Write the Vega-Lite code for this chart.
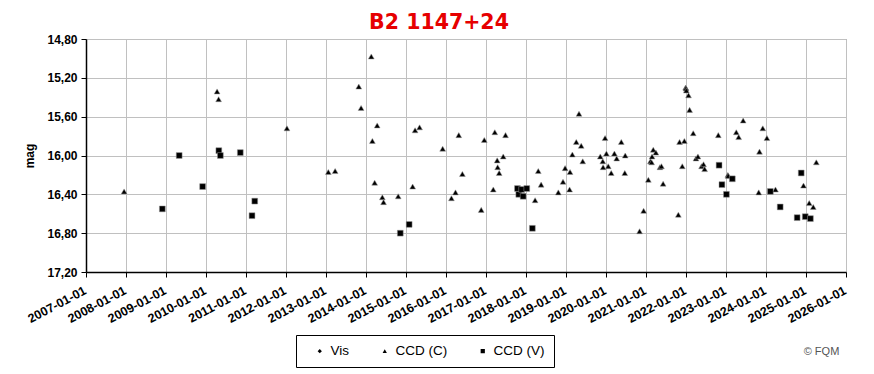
{
  "$schema": "https://vega.github.io/schema/vega-lite/v6.json",
  "width": 760,
  "height": 233,
  "autosize": {"type": "none"},
  "padding": {"left": 86, "top": 39, "right": 28, "bottom": 102},
  "background": "white",
  "config": {
    "view": {"stroke": "#888888"},
    "font": "Liberation Sans"
  },
  "title": {
    "text": "B2 1147+24",
    "font": "DejaVu Sans",
    "fontSize": 20.5,
    "fontWeight": "bold",
    "color": "#e60000",
    "anchor": "middle",
    "frame": "group",
    "dx": -27,
    "dy": 25,
    "baseline": "bottom",
    "offset": 5
  },
  "data": {
    "values": [
      {"type": "CCD (C)", "date": "2007-12-15", "mag": 16.37},
      {"type": "CCD (C)", "date": "2010-04-12", "mag": 15.34},
      {"type": "CCD (C)", "date": "2010-04-26", "mag": 15.42},
      {"type": "CCD (C)", "date": "2012-01-10", "mag": 15.72},
      {"type": "CCD (C)", "date": "2013-01-22", "mag": 16.17},
      {"type": "CCD (C)", "date": "2013-03-25", "mag": 16.16},
      {"type": "CCD (C)", "date": "2013-10-27", "mag": 15.29},
      {"type": "CCD (C)", "date": "2013-11-17", "mag": 15.51},
      {"type": "CCD (C)", "date": "2014-02-18", "mag": 14.98},
      {"type": "CCD (C)", "date": "2014-02-28", "mag": 15.85},
      {"type": "CCD (C)", "date": "2014-03-21", "mag": 16.28},
      {"type": "CCD (C)", "date": "2014-04-13", "mag": 15.69},
      {"type": "CCD (C)", "date": "2014-05-30", "mag": 16.43},
      {"type": "CCD (C)", "date": "2014-06-10", "mag": 16.48},
      {"type": "CCD (C)", "date": "2014-10-22", "mag": 16.42},
      {"type": "CCD (C)", "date": "2015-03-03", "mag": 16.32},
      {"type": "CCD (C)", "date": "2015-03-25", "mag": 15.74},
      {"type": "CCD (C)", "date": "2015-05-05", "mag": 15.71},
      {"type": "CCD (C)", "date": "2015-12-02", "mag": 15.93},
      {"type": "CCD (C)", "date": "2016-02-20", "mag": 16.44},
      {"type": "CCD (C)", "date": "2016-03-28", "mag": 16.38},
      {"type": "CCD (C)", "date": "2016-04-27", "mag": 15.79},
      {"type": "CCD (C)", "date": "2016-05-30", "mag": 16.19},
      {"type": "CCD (C)", "date": "2016-11-18", "mag": 16.56},
      {"type": "CCD (C)", "date": "2016-12-16", "mag": 15.84},
      {"type": "CCD (C)", "date": "2017-03-08", "mag": 16.35},
      {"type": "CCD (C)", "date": "2017-03-22", "mag": 15.76},
      {"type": "CCD (C)", "date": "2017-04-13", "mag": 16.05},
      {"type": "CCD (C)", "date": "2017-04-17", "mag": 16.12},
      {"type": "CCD (C)", "date": "2017-05-01", "mag": 16.18},
      {"type": "CCD (C)", "date": "2017-06-07", "mag": 16.01},
      {"type": "CCD (C)", "date": "2017-06-28", "mag": 15.79},
      {"type": "CCD (C)", "date": "2018-03-25", "mag": 16.46},
      {"type": "CCD (C)", "date": "2018-04-23", "mag": 16.16},
      {"type": "CCD (C)", "date": "2018-05-19", "mag": 16.30},
      {"type": "CCD (C)", "date": "2018-10-23", "mag": 16.38},
      {"type": "CCD (C)", "date": "2018-12-05", "mag": 16.27},
      {"type": "CCD (C)", "date": "2018-12-24", "mag": 16.13},
      {"type": "CCD (C)", "date": "2019-02-03", "mag": 16.35},
      {"type": "CCD (C)", "date": "2019-02-07", "mag": 16.17},
      {"type": "CCD (C)", "date": "2019-02-28", "mag": 15.99},
      {"type": "CCD (C)", "date": "2019-04-05", "mag": 15.86},
      {"type": "CCD (C)", "date": "2019-04-30", "mag": 15.57},
      {"type": "CCD (C)", "date": "2019-05-20", "mag": 15.90},
      {"type": "CCD (C)", "date": "2019-06-03", "mag": 16.06},
      {"type": "CCD (C)", "date": "2019-11-10", "mag": 16.01},
      {"type": "CCD (C)", "date": "2019-12-03", "mag": 16.06},
      {"type": "CCD (C)", "date": "2019-12-06", "mag": 16.12},
      {"type": "CCD (C)", "date": "2019-12-24", "mag": 15.82},
      {"type": "CCD (C)", "date": "2020-01-05", "mag": 15.98},
      {"type": "CCD (C)", "date": "2020-01-22", "mag": 16.11},
      {"type": "CCD (C)", "date": "2020-02-18", "mag": 16.18},
      {"type": "CCD (C)", "date": "2020-03-18", "mag": 15.98},
      {"type": "CCD (C)", "date": "2020-04-08", "mag": 16.03},
      {"type": "CCD (C)", "date": "2020-05-20", "mag": 15.86},
      {"type": "CCD (C)", "date": "2020-06-21", "mag": 16.18},
      {"type": "CCD (C)", "date": "2020-06-25", "mag": 16.00},
      {"type": "CCD (C)", "date": "2020-11-03", "mag": 16.78},
      {"type": "CCD (C)", "date": "2020-12-10", "mag": 16.57},
      {"type": "CCD (C)", "date": "2021-01-22", "mag": 16.25},
      {"type": "CCD (C)", "date": "2021-02-10", "mag": 16.06},
      {"type": "CCD (C)", "date": "2021-02-21", "mag": 16.07},
      {"type": "CCD (C)", "date": "2021-02-25", "mag": 16.01},
      {"type": "CCD (C)", "date": "2021-03-08", "mag": 15.94},
      {"type": "CCD (C)", "date": "2021-04-01", "mag": 15.97},
      {"type": "CCD (C)", "date": "2021-05-08", "mag": 16.12},
      {"type": "CCD (C)", "date": "2021-05-22", "mag": 16.11},
      {"type": "CCD (C)", "date": "2021-06-06", "mag": 16.29},
      {"type": "CCD (C)", "date": "2021-10-23", "mag": 16.61},
      {"type": "CCD (C)", "date": "2021-11-03", "mag": 15.86},
      {"type": "CCD (C)", "date": "2021-11-28", "mag": 16.11},
      {"type": "CCD (C)", "date": "2021-12-17", "mag": 15.85},
      {"type": "CCD (C)", "date": "2021-12-29", "mag": 15.30},
      {"type": "CCD (C)", "date": "2022-01-01", "mag": 15.31},
      {"type": "CCD (C)", "date": "2022-01-04", "mag": 15.33},
      {"type": "CCD (C)", "date": "2022-01-24", "mag": 15.38},
      {"type": "CCD (C)", "date": "2022-02-03", "mag": 15.53},
      {"type": "CCD (C)", "date": "2022-03-08", "mag": 15.77},
      {"type": "CCD (C)", "date": "2022-04-02", "mag": 16.03},
      {"type": "CCD (C)", "date": "2022-04-20", "mag": 16.01},
      {"type": "CCD (C)", "date": "2022-05-23", "mag": 16.11},
      {"type": "CCD (C)", "date": "2022-06-10", "mag": 16.09},
      {"type": "CCD (C)", "date": "2022-06-20", "mag": 16.14},
      {"type": "CCD (C)", "date": "2022-10-23", "mag": 15.79},
      {"type": "CCD (C)", "date": "2023-01-18", "mag": 16.20},
      {"type": "CCD (C)", "date": "2023-01-22", "mag": 16.21},
      {"type": "CCD (C)", "date": "2023-04-05", "mag": 15.76},
      {"type": "CCD (C)", "date": "2023-04-27", "mag": 15.81},
      {"type": "CCD (C)", "date": "2023-06-07", "mag": 15.64},
      {"type": "CCD (C)", "date": "2023-10-27", "mag": 16.38},
      {"type": "CCD (C)", "date": "2023-11-03", "mag": 15.96},
      {"type": "CCD (C)", "date": "2023-12-03", "mag": 15.72},
      {"type": "CCD (C)", "date": "2024-01-10", "mag": 15.82},
      {"type": "CCD (C)", "date": "2024-03-28", "mag": 16.35},
      {"type": "CCD (C)", "date": "2024-12-09", "mag": 16.31},
      {"type": "CCD (C)", "date": "2025-01-30", "mag": 16.49},
      {"type": "CCD (C)", "date": "2025-03-08", "mag": 16.53},
      {"type": "CCD (C)", "date": "2025-04-05", "mag": 16.07},
      {"type": "CCD (V)", "date": "2008-11-28", "mag": 16.55},
      {"type": "CCD (V)", "date": "2009-05-01", "mag": 16.00},
      {"type": "CCD (V)", "date": "2009-12-01", "mag": 16.32},
      {"type": "CCD (V)", "date": "2010-04-28", "mag": 15.95},
      {"type": "CCD (V)", "date": "2010-05-12", "mag": 16.00},
      {"type": "CCD (V)", "date": "2010-11-10", "mag": 15.97},
      {"type": "CCD (V)", "date": "2011-02-25", "mag": 16.62},
      {"type": "CCD (V)", "date": "2011-03-22", "mag": 16.47},
      {"type": "CCD (V)", "date": "2014-11-10", "mag": 16.80},
      {"type": "CCD (V)", "date": "2015-01-30", "mag": 16.71},
      {"type": "CCD (V)", "date": "2017-10-15", "mag": 16.34},
      {"type": "CCD (V)", "date": "2017-10-27", "mag": 16.40},
      {"type": "CCD (V)", "date": "2017-11-22", "mag": 16.35},
      {"type": "CCD (V)", "date": "2017-12-06", "mag": 16.42},
      {"type": "CCD (V)", "date": "2018-01-08", "mag": 16.34},
      {"type": "CCD (V)", "date": "2018-02-28", "mag": 16.75},
      {"type": "CCD (V)", "date": "2022-10-30", "mag": 16.10},
      {"type": "CCD (V)", "date": "2022-11-25", "mag": 16.30},
      {"type": "CCD (V)", "date": "2023-01-05", "mag": 16.40},
      {"type": "CCD (V)", "date": "2023-02-28", "mag": 16.24},
      {"type": "CCD (V)", "date": "2024-02-10", "mag": 16.37},
      {"type": "CCD (V)", "date": "2024-05-10", "mag": 16.53},
      {"type": "CCD (V)", "date": "2024-10-12", "mag": 16.64},
      {"type": "CCD (V)", "date": "2024-11-18", "mag": 16.18},
      {"type": "CCD (V)", "date": "2024-12-25", "mag": 16.63},
      {"type": "CCD (V)", "date": "2025-02-10", "mag": 16.65}
    ]
  },
  "mark": {"type": "point", "filled": true, "fill": "black", "stroke": "#999999", "strokeWidth": 0.5, "opacity": 1},
  "encoding": {
    "x": {
      "field": "date",
      "type": "temporal",
      "scale": {"type": "utc", "domain": [{"year": 2007, "month": 1, "date": 1, "utc": true}, {"year": 2026, "month": 1, "date": 1, "utc": true}], "nice": false},
      "axis": {
        "title": "© FQM",
        "titleX": 735,
        "titleY": 82,
        "titleAlign": "center",
        "titleBaseline": "alphabetic",
        "titleFontSize": 11,
        "titleFontWeight": "normal",
        "titleColor": "#555555",
        "titleFont": "Liberation Sans",
        "labelExpr": "utcFormat(datum.value, '%Y-%m-%d')",
        "values": [
          {"year": 2007, "utc": true}, {"year": 2008, "utc": true}, {"year": 2009, "utc": true}, {"year": 2010, "utc": true},
          {"year": 2011, "utc": true}, {"year": 2012, "utc": true}, {"year": 2013, "utc": true}, {"year": 2014, "utc": true},
          {"year": 2015, "utc": true}, {"year": 2016, "utc": true}, {"year": 2017, "utc": true}, {"year": 2018, "utc": true},
          {"year": 2019, "utc": true}, {"year": 2020, "utc": true}, {"year": 2021, "utc": true}, {"year": 2022, "utc": true},
          {"year": 2023, "utc": true}, {"year": 2024, "utc": true}, {"year": 2025, "utc": true}, {"year": 2026, "utc": true}
        ],
        "labelAngle": -28,
        "labelAlign": "right",
        "labelBaseline": "top",
        "labelFontSize": 12.5,
        "labelFontWeight": "bold",
        "labelColor": "black",
        "labelPadding": 7,
        "labelOffset": -4,
        "labelOverlap": false,
        "labelFlush": false,
        "grid": true,
        "gridColor": "#c0c0c0",
        "gridWidth": 1,
        "domainColor": "black",
        "domainWidth": 1.5,
        "tickColor": "black",
        "tickSize": 5
      }
    },
    "y": {
      "field": "mag",
      "type": "quantitative",
      "scale": {"domain": [14.8, 17.2], "reverse": true, "nice": false, "zero": false},
      "axis": {
        "title": "mag",
        "titleFontSize": 12,
        "titleFontWeight": "bold",
        "titleColor": "black",
        "titlePadding": 10,
        "values": [14.8, 15.2, 15.6, 16.0, 16.4, 16.8, 17.2],
        "labelExpr": "replace(format(datum.value, '.2f'), '.', ',')",
        "labelFontSize": 12,
        "labelFontWeight": "bold",
        "labelColor": "black",
        "labelPadding": 4,
        "grid": true,
        "gridColor": "#c0c0c0",
        "gridWidth": 1,
        "domainColor": "black",
        "domainWidth": 1.5,
        "tickColor": "black",
        "tickSize": 5
      }
    },
    "shape": {
      "field": "type",
      "type": "nominal",
      "scale": {"domain": ["Vis", "CCD (C)", "CCD (V)"], "range": ["diamond", "triangle-up", "square"]},
      "legend": {
        "title": " ",
        "titleOrient": "left",
        "titlePadding": 8,
        "titleFontSize": 12,
        "orient": "none",
        "legendX": 210,
        "legendY": 296,
        "direction": "horizontal",
        "strokeColor": "black",
        "fillColor": "white",
        "padding": 9,
        "columnPadding": 28,
        "symbolSize": 18,
        "symbolFillColor": "black",
        "symbolStrokeColor": "black",
        "symbolStrokeWidth": 0.5,
        "labelFontSize": 13.5,
        "labelColor": "black",
        "labelOffset": 4
      }
    },
    "size": {"value": 34}
  }
}
